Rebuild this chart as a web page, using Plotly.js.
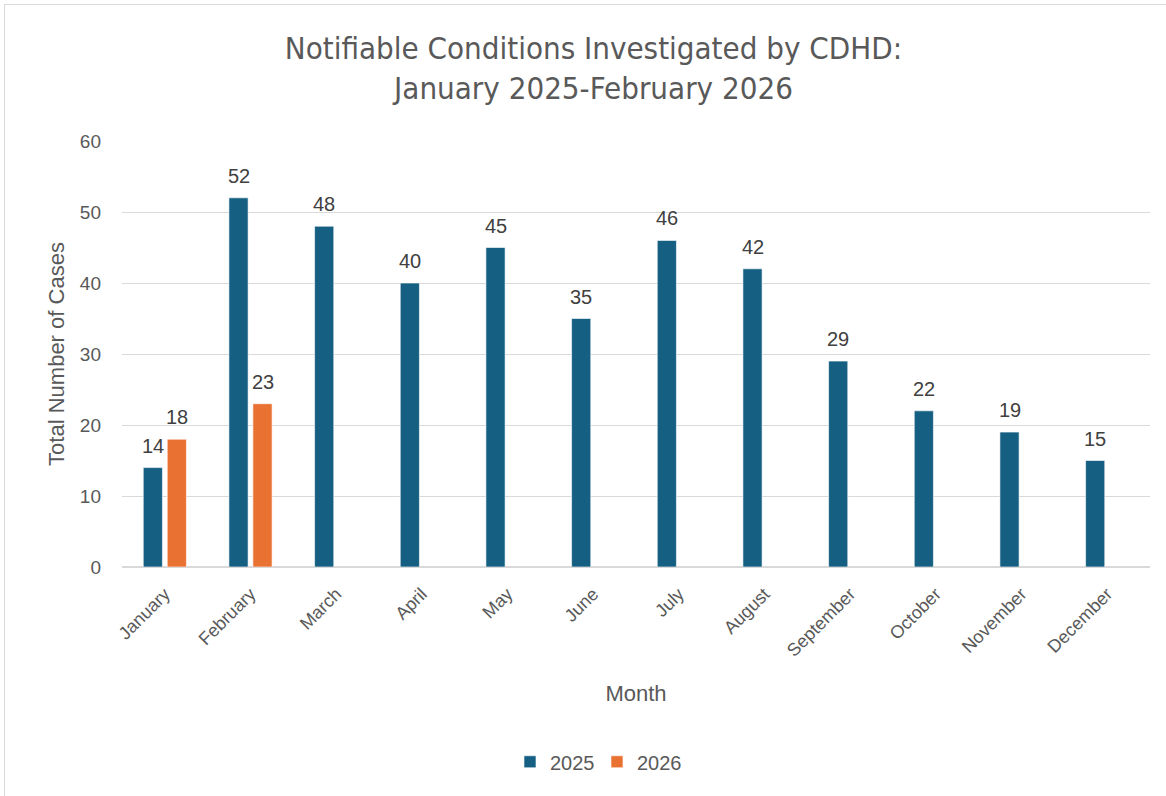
<!DOCTYPE html>
<html>
<head>
<meta charset="utf-8">
<script src="https://cdn.plot.ly/plotly-3.0.1.min.js"></script>
<style>
html,body{margin:0;padding:0;background:#fff;}
#wrap{position:relative;width:1166px;height:796px;overflow:hidden;}
#chart{width:1166px;height:796px;}
#frame{position:absolute;left:4px;top:4px;width:1200px;height:900px;border-top:1px solid #d9d9d9;border-left:1px solid #d9d9d9;pointer-events:none;}
</style>
</head>
<body>
<div id="wrap"><div id="chart"></div><div id="frame"></div></div>
<script>
const months = ["January","February","March","April","May","June","July","August","September","October","November","December"];
const cases2025 = [14,52,48,40,45,35,46,42,29,22,19,15];
const cases2026 = [18,23,null,null,null,null,null,null,null,null,null,null];
const seriesNames = ["2025","2026"];

const base = "Liberation Sans, Arial, sans-serif";
const colors = ['#156082','#E97132'];
const seriesData = [cases2025, cases2026];

const traces = seriesData.map((vals, s) => ({
  type:'bar', name:seriesNames[s], x:months, y:vals,
  marker:{color:colors[s], line:{color:'rgba(255,255,255,0.6)', width:1}},
  hoverinfo:'x+y'
}));

// data labels, placed above each bar via the category/value axes
const slotShift = 12;
const annotations = [];
seriesData.forEach((vals, s) => {
  vals.forEach((v, i) => {
    if (v === null) return;
    annotations.push({x:months[i], y:v, xref:'x', yref:'y', text:String(v), showarrow:false,
      xshift:(s === 0 ? -slotShift : slotShift), yshift:9, yanchor:'bottom', xanchor:'center',
      font:{family:base, size:20, color:'#404040'}});
  });
});

const layout = {
  width:1166, height:796,
  paper_bgcolor:'#fff', plot_bgcolor:'#fff',
  margin:{l:122, r:16, t:141, b:229},
  barmode:'group', bargap:0.44, bargroupgap:0.2,
  title:{text:'Notifiable Conditions Investigated by CDHD:<br>January 2025-February 2026',
         font:{family:"Liberation Sans Narrow, 'DejaVu Sans Condensed', sans-serif", size:31, color:'#595959'},
         x:0.509, xanchor:'center', xref:'container', y:0.926, yanchor:'middle'},
  font:{family:base, color:'#595959'},
  xaxis:{type:'category', tickangle:-45, tickfont:{family:base, size:18, color:'#595959'},
         showgrid:false, showline:false, zeroline:false, ticks:'', ticklen:0, ticklabelstandoff:12,
         automargin:false,
         title:{text:'Month', font:{family:base, size:22, color:'#595959'}, standoff:26}},
  yaxis:{range:[0,60], dtick:10, tick0:0, showgrid:true, gridcolor:'#d9d9d9', gridwidth:1,
         zeroline:true, zerolinecolor:'#d9d9d9', zerolinewidth:1.5, showline:false, ticks:'',
         tickfont:{family:base, size:19, color:'#595959'}, ticklabelstandoff:20, automargin:false,
         title:{text:'Total Number of Cases', font:{family:base, size:22, color:'#595959'}, standoff:9}},
  legend:{orientation:'h', xref:'container', x:0.512, xanchor:'center', yref:'container', y:0.043, yanchor:'middle',
          font:{family:base, size:20, color:'#595959'}, itemwidth:30, entrywidth:42, traceorder:'normal'},
  annotations:annotations,
  showlegend:true
};

Plotly.newPlot('chart', traces, layout, {staticPlot:true, displayModeBar:false});
</script>
</body>
</html>
